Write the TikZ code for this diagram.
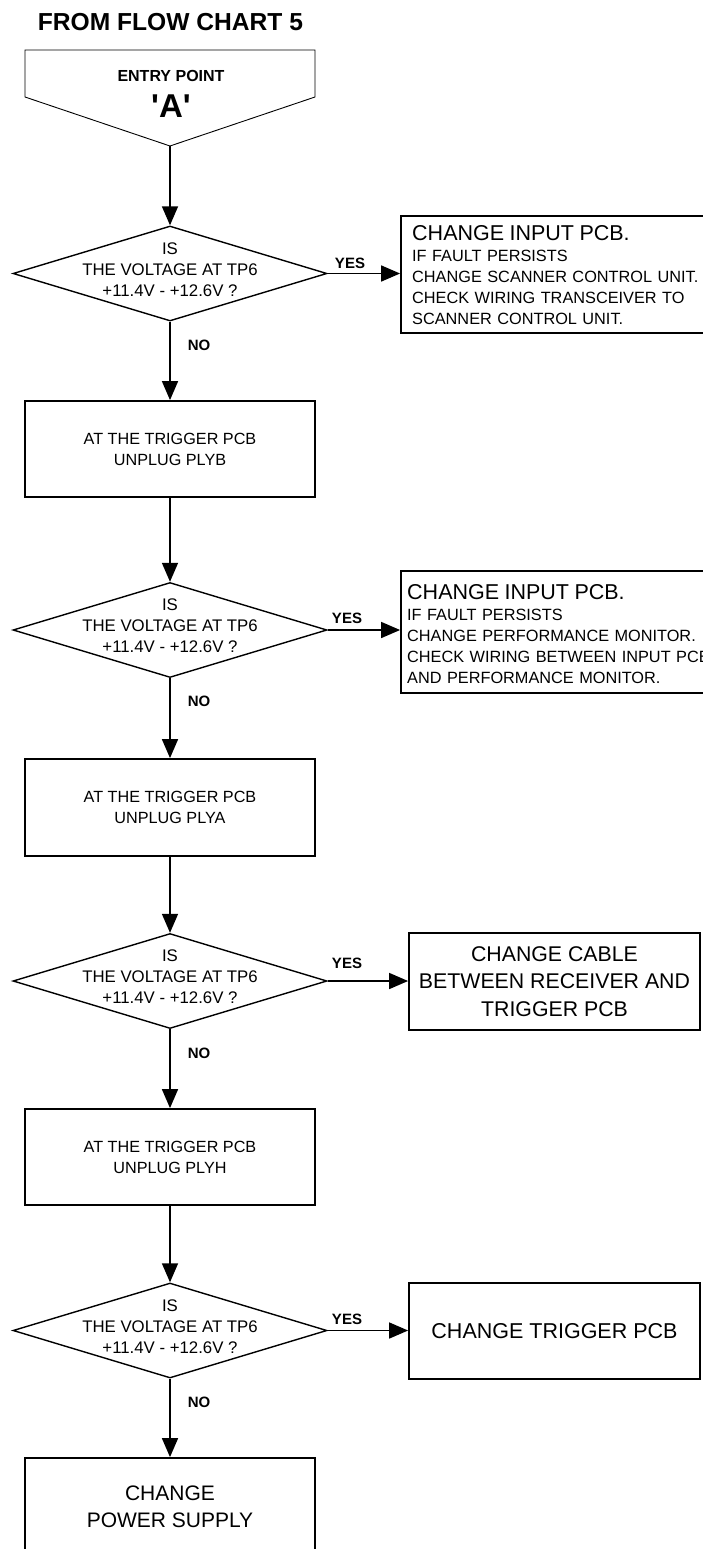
\documentclass[tikz,border=0pt]{standalone}
\usepackage{fontspec}
\newfontfamily\lib{Liberation Sans}
\usetikzlibrary{arrows.meta,shapes.geometric}
\newcommand\setfs[2]{\fontsize{#1pt}{#2pt}\selectfont}
\begin{document}
\begin{tikzpicture}[x=1pt,y=-1pt,
  every node/.style={font=\lib},
  conn/.style={line width=1.6pt,-{Triangle[length=19pt,width=16pt]}},
  boxnode/.style={draw,line width=1.8pt,rectangle,inner sep=0pt,align=center},
  dia/.style={draw,line width=1.4pt,diamond,inner sep=0pt,minimum width=314pt,minimum height=95pt},
  dtext/.style={align=center,font=\lib\setfs{16.8}{21},inner sep=0pt},
  ptext/.style={font=\lib\setfs{16.2}{21}},
  rtext/.style={anchor=north west,inner sep=0pt,text width=330pt,align=left,font=\lib\setfs{16.3}{21}},
  lab/.style={font=\lib\bfseries\setfs{15}{18},inner sep=0pt},
]
\fill[white] (0,0) rectangle (703,1549);
\useasboundingbox (0,0) rectangle (703,1549);
\begin{scope}
\clip (0,0) rectangle (703,1549);

% title and entry point
\node[font=\lib\bfseries\setfs{24.6}{28},inner sep=0pt] (title) at (170.5,22) {FROM FLOW CHART 5};
\draw[line width=0.9pt] (25,50) -- (315,50) -- (315,97) -- (170,146) -- (25,97) -- cycle;
\coordinate (entrytip) at (170,146);
\node[font=\lib\bfseries\setfs{16}{18},inner sep=0pt] (entrylbl) at (171,75.5) {ENTRY POINT};
\node[font=\lib\bfseries\setfs{33}{36},inner sep=0pt] (entryA) at (171,106) {'A'};

% decisions
\node[dia] (d1) at (170,273.5) {};
\node[dtext] (d1t) at (170,269.5) {IS\\THE VOLTAGE AT TP6\\+11.4V - +12.6V ?};
\node[dia] (d2) at (170,630) {};
\node[dtext] (d2t) at (170,626) {IS\\THE VOLTAGE AT TP6\\+11.4V - +12.6V ?};
\node[dia] (d3) at (170,981) {};
\node[dtext] (d3t) at (170,977) {IS\\THE VOLTAGE AT TP6\\+11.4V - +12.6V ?};
\node[dia] (d4) at (170,1330.5) {};
\node[dtext] (d4t) at (170,1326.5) {IS\\THE VOLTAGE AT TP6\\+11.4V - +12.6V ?};

% process boxes
\node[boxnode,ptext,minimum width=290pt,minimum height=96pt] (p1) at (170,449) {AT THE TRIGGER PCB\\UNPLUG PLYB};
\node[boxnode,ptext,minimum width=290pt,minimum height=97pt] (p2) at (170,807.5) {AT THE TRIGGER PCB\\UNPLUG PLYA};
\node[boxnode,ptext,minimum width=290pt,minimum height=96pt] (p3) at (170,1157) {AT THE TRIGGER PCB\\UNPLUG PLYH};
\node[boxnode,font=\lib\setfs{21}{27},minimum width=290pt,minimum height=97pt] (p4) at (170,1506.5) {CHANGE\\POWER SUPPLY};

% result boxes
\node[boxnode,minimum width=311pt,minimum height=117pt] (r1) at (556.5,274.5) {};
\node[rtext] (r1t) at (412,225.3) {{\setfs{21.5}{24}CHANGE INPUT PCB.\par}IF FAULT PERSISTS\\CHANGE SCANNER CONTROL UNIT.\\CHECK WIRING TRANSCEIVER TO\\SCANNER CONTROL UNIT.};
\node[boxnode,minimum width=311pt,minimum height=122pt] (r2) at (556.5,632) {};
\node[rtext] (r2t) at (407,584.3) {{\setfs{21.5}{24}CHANGE INPUT PCB.\par}IF FAULT PERSISTS\\CHANGE PERFORMANCE MONITOR.\\CHECK WIRING BETWEEN INPUT PCB\\AND PERFORMANCE MONITOR.};
\node[boxnode,font=\lib\setfs{21.3}{27.5},minimum width=291pt,minimum height=97pt] (r3) at (554.5,981.5) {CHANGE CABLE\\BETWEEN RECEIVER AND\\TRIGGER PCB};
\node[boxnode,font=\lib\setfs{21.5}{26},minimum width=291pt,minimum height=96pt] (r4) at (554.5,1331) {CHANGE TRIGGER PCB};

% labels
\node[lab] (y1) at (350,263) {YES};
\node[lab] (y2) at (347,618) {YES};
\node[lab] (y3) at (347,963) {YES};
\node[lab] (y4) at (347,1319) {YES};
\node[lab] (n1) at (199,345) {NO};
\node[lab] (n2) at (199,701) {NO};
\node[lab] (n3) at (199,1053) {NO};
\node[lab] (n4) at (199,1402) {NO};

% connectors
\draw[conn] (entrytip) -- (d1.north);
\draw[conn] (d1.south) -- (p1.north);
\draw[conn] (p1.south) -- (d2.north);
\draw[conn] (d2.south) -- (p2.north);
\draw[conn] (p2.south) -- (d3.north);
\draw[conn] (d3.south) -- (p3.north);
\draw[conn] (p3.south) -- (d4.north);
\draw[conn] (d4.south) -- (p4.north);
\draw[conn] (d1.east) -- (d1.east -| r1.west);
\draw[conn] (d2.east) -- (d2.east -| r2.west);
\draw[conn] (d3.east) -- (d3.east -| r3.west);
\draw[conn] (d4.east) -- (d4.east -| r4.west);
\end{scope}
\end{tikzpicture}
\end{document}
